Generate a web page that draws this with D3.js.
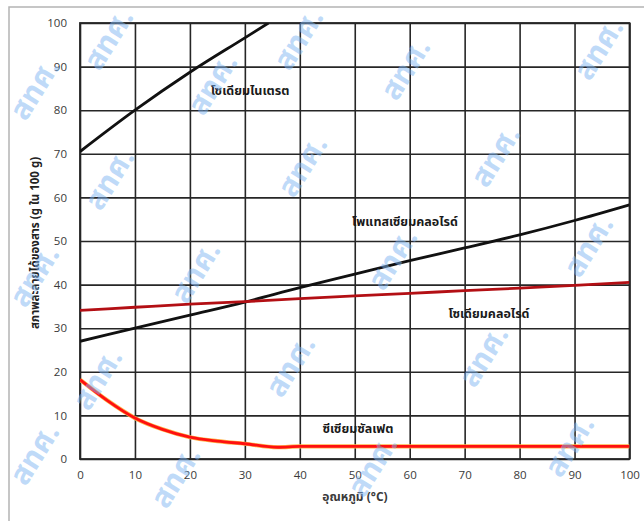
<!DOCTYPE html>
<html>
<head>
<meta charset="utf-8">
<script src="https://cdn.jsdelivr.net/npm/d3@7"></script>
<style>
  html, body { margin: 0; padding: 0; background: #fff; }
  svg { display: block; }
</style>
</head>
<body>
<svg id="chart" width="644" height="521"></svg>
<script>
// ---- Data ----
const xTicks = [0, 10, 20, 30, 40, 50, 60, 70, 80, 90, 100];
const yTicks = [0, 10, 20, 30, 40, 50, 60, 70, 80, 90, 100];

const sodiumNitrateT = [0, 10, 20, 30, 34.3];
const sodiumNitrateV = [70.5, 80, 88.7, 96.6, 100];

const potassiumChlorideT = [0, 10, 20, 30, 40, 50, 60, 70, 80, 90, 100];
const potassiumChlorideV = [27, 30, 33, 36, 39.3, 42.4, 45.5, 48.4, 51.4, 54.7, 58.3];

const sodiumChlorideT = [0, 10, 20, 30, 40, 50, 60, 70, 80, 90, 100];
const sodiumChlorideV = [34.1, 34.8, 35.5, 36.1, 36.8, 37.4, 38.0, 38.6, 39.2, 39.8, 40.5];

const ceriumSulfateT = [0, 5, 10, 15, 20, 25, 30, 36, 40, 50, 60, 70, 80, 90, 100];
const ceriumSulfateV = [18.2, 13.4, 9.4, 6.8, 5.0, 4.1, 3.5, 2.7, 2.9, 2.9, 2.9, 2.9, 2.9, 2.9, 2.9];

const seriesLabels = ["โซเดียมไนเตรต", "โพแทสเซียมคลอไรด์", "โซเดียมคลอไรด์", "ซีเซียมซัลเฟต"];
const xTitle = "อุณหภูมิ (°C)";
const yTitle = "สภาพละลายได้ของสาร (g ใน 100 g)";
const watermarkText = "สทศ.";

// ---- Layout ----
const svg = d3.select("#chart");
const L = 80, R = 629.5, T = 23, B = 459;
const x = d3.scaleLinear().domain([0, 100]).range([L, R]);
const y = d3.scaleLinear().domain([0, 100]).range([B, T]);

const thaiFont = "'Noto Sans Thai', 'Noto Sans', 'Leelawadee UI', Tahoma, sans-serif";
const numFont = "'Open Sans', 'Liberation Sans', Arial, sans-serif";

// outer frame
svg.append("rect").attr("x", 9).attr("y", 7).attr("width", 700).attr("height", 600)
  .attr("fill", "#fff").attr("stroke", "#b4b4b4").attr("stroke-width", 1.5);

// grid
const gridColor = "#262626";
const gx = svg.append("g").attr("transform", `translate(0,${B})`)
  .call(d3.axisBottom(x).tickValues(xTicks).tickSize(-(B - T)).tickFormat(""));
const gy = svg.append("g").attr("transform", `translate(${L},0)`)
  .call(d3.axisLeft(y).tickValues(yTicks).tickSize(-(R - L)).tickFormat(""));
[gx, gy].forEach(g => {
  g.select(".domain").remove();
  g.selectAll("line").attr("stroke", gridColor).attr("stroke-width", 1.6);
});

// tick labels
const lx = svg.append("g").attr("transform", `translate(0,${B})`)
  .call(d3.axisBottom(x).tickValues(xTicks).tickSize(0).tickPadding(12));
const ly = svg.append("g").attr("transform", `translate(${L},0)`)
  .call(d3.axisLeft(y).tickValues(yTicks).tickSize(0).tickPadding(13));
[lx, ly].forEach(g => {
  g.select(".domain").remove();
  g.selectAll("text").attr("font-family", numFont).attr("font-size", 11.5)
    .attr("fill", "#3a3a3a");
});

// plot border
svg.append("rect").attr("x", L).attr("y", T).attr("width", R - L).attr("height", B - T)
  .attr("fill", "none").attr("stroke", gridColor).attr("stroke-width", 1.8);

// lines
svg.append("clipPath").attr("id", "pc").append("rect")
  .attr("x", L).attr("y", T).attr("width", R - L).attr("height", B - T);
const line = d3.line().x(d => x(d[0])).y(d => y(d[1])).curve(d3.curveMonotoneX);
const zip = (a, b) => a.map((v, i) => [v, b[i]]);
const lines = svg.append("g").attr("clip-path", "url(#pc)");

lines.append("path").datum(zip(sodiumNitrateT, sodiumNitrateV))
  .attr("d", line).attr("fill", "none").attr("stroke", "#111").attr("stroke-width", 2.8);
lines.append("path").datum(zip(potassiumChlorideT, potassiumChlorideV))
  .attr("d", line).attr("fill", "none").attr("stroke", "#111").attr("stroke-width", 2.8);
lines.append("path").datum(zip(sodiumChlorideT, sodiumChlorideV))
  .attr("d", line).attr("fill", "none").attr("stroke", "#b30f14").attr("stroke-width", 2.8);
lines.append("path").datum(zip(ceriumSulfateT, ceriumSulfateV))
  .attr("d", line).attr("fill", "none").attr("stroke", "#ffb347").attr("stroke-width", 4.2);
lines.append("path").datum(zip(ceriumSulfateT, ceriumSulfateV))
  .attr("d", line).attr("fill", "none").attr("stroke", "#ff1010").attr("stroke-width", 2.8);

// series labels
const labelPos = [[250, 92], [405, 223], [489, 315], [358, 430]];
svg.append("g").selectAll("text").data(seriesLabels).join("text")
  .attr("x", (d, i) => labelPos[i][0]).attr("y", (d, i) => labelPos[i][1])
  .attr("text-anchor", "middle").attr("dominant-baseline", "middle")
  .attr("font-family", thaiFont).attr("font-weight", "bold").attr("font-size", 12.5)
  .attr("fill", "#1a1a1a").text(d => d);

// axis titles
svg.append("text").attr("x", 355).attr("y", 498)
  .attr("text-anchor", "middle").attr("dominant-baseline", "middle")
  .attr("font-family", thaiFont).attr("font-weight", "bold").attr("font-size", 12)
  .attr("fill", "#3a3a3a").text(xTitle);
svg.append("text").attr("transform", "translate(36,243) rotate(-90)")
  .attr("text-anchor", "middle").attr("dominant-baseline", "middle")
  .attr("font-family", thaiFont).attr("font-weight", "bold").attr("font-size", 11.5)
  .attr("fill", "#222").text(yTitle);

// watermark
const wmX = [110, 300, 36, 214, 407, 600, 111, 304, 497, 36, 197, 394, 590, 99, 292, 485, 36, 177, 374, 571];
const wmY = [40, 40, 90, 85, 70, 50, 180, 167, 157, 277, 273, 260, 247, 380, 367, 357, 455, 478, 467, 447];
svg.append("g").selectAll("text").data(wmX).join("text")
  .attr("transform", (d, i) => `translate(${d},${wmY[i]}) rotate(-58)`)
  .attr("text-anchor", "middle").attr("dominant-baseline", "middle")
  .attr("font-family", thaiFont).attr("font-weight", "bold").attr("font-size", 30)
  .attr("fill", "#7fb5f2").attr("fill-opacity", 0.5).text(watermarkText);
</script>
</body>
</html>
